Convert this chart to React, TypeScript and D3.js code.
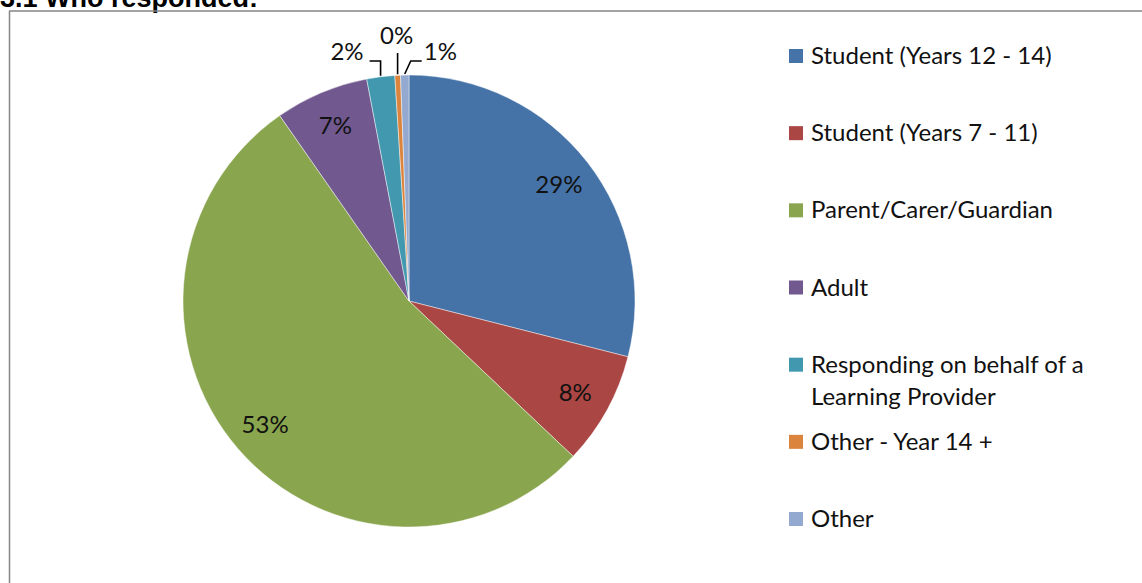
import * as d3 from "d3";

const categories = [
  "Student (Years 12 - 14)",
  "Student (Years 7 - 11)",
  "Parent/Carer/Guardian",
  "Adult",
  "Responding on behalf of a Learning Provider",
  "Other - Year 14 +",
  "Other",
];
const legendLines = [
  ["Student (Years 12 - 14)"],
  ["Student (Years 7 - 11)"],
  ["Parent/Carer/Guardian"],
  ["Adult"],
  ["Responding on behalf of a", "Learning Provider"],
  ["Other - Year 14 +"],
  ["Other"],
];
const values = [29.0, 8.1, 53.3, 6.7, 2.0, 0.4, 0.6];
const colors = ["#4572A7", "#AA4643", "#89A54E", "#71588F", "#4198AF", "#DB843D", "#93A9CF"];
// -1 = label left of leader, 0 = above, 1 = right, null = inside slice
const outsideSide: (number | null)[] = [null, null, null, null, -1, 0, 1];

const W = 1142;
const H = 583;
const cx = 409;
const cy = 301;
const R = 226;
const FONT = "Lato, 'Noto Sans', sans-serif";
const FS = 24;

export default function App() {
  const total = d3.sum(values);
  const pie = d3
    .pie<number>()
    .sort(null)
    .value((d) => d);
  const arcs = pie(values);
  const arc = d3.arc<d3.PieArcDatum<number>>().innerRadius(0).outerRadius(R);
  const labelArc = d3.arc<d3.PieArcDatum<number>>().innerRadius(R * 0.84).outerRadius(R * 0.84);
  const pct = (v: number) => `${Math.round((v / total) * 100)}%`;

  const legendY = d3
    .scaleLinear()
    .domain([0, categories.length - 1])
    .range([56, 519]);

  return (
    <svg
      width={W}
      height={H}
      style={{ position: "absolute", left: 0, top: 0, background: "#fff" }}
      fontFamily={FONT}
    >
      <text
        x={0}
        y={7}
        fontFamily="'Liberation Sans', Arial, sans-serif"
        fontWeight="bold"
        fontSize={27}
        fill="#000"
      >
        3.1 Who responded:
      </text>
      <line x1={9.5} y1={11} x2={9.5} y2={H} stroke="#868686" strokeWidth={1.5} />
      <line x1={9} y1={11} x2={W} y2={11} stroke="#868686" strokeWidth={1.5} />

      <g transform={`translate(${cx},${cy})`}>
        {arcs.map((a, i) => (
          <path
            key={categories[i]}
            d={arc(a) ?? ""}
            fill={colors[i]}
            stroke="#ffffff"
            strokeOpacity={0.45}
            strokeWidth={1}
          />
        ))}
        {arcs.map((a, i) => {
          const side = outsideSide[i];
          if (side !== null) return null;
          const [lx, ly] = labelArc.centroid(a);
          return (
            <text
              key={"l" + i}
              x={lx}
              y={ly}
              dy="0.35em"
              textAnchor="middle"
              fontSize={FS}
              fill="#111"
            >
              {pct(a.value)}
            </text>
          );
        })}
        {arcs.map((a, i) => {
          const side = outsideSide[i];
          if (side === null) return null;
          const mid = (a.startAngle + a.endAngle) / 2;
          const ax = (R + 1) * Math.sin(mid);
          const ay = -(R + 1) * Math.cos(mid);
          if (side === 0) {
            const topY = -R - 22;
            return (
              <g key={"o" + i}>
                <line x1={ax} y1={ay} x2={ax} y2={topY} stroke="#000" strokeWidth={1.6} />
                <text x={ax - 1} y={-R - 31} textAnchor="middle" fontSize={FS} fill="#111">
                  {pct(a.value)}
                </text>
              </g>
            );
          }
          const ex = ax + (side > 0 ? 6 : 0);
          const ey = -R - 14;
          const hx = ex + side * 11;
          return (
            <g key={"o" + i}>
              <polyline
                points={`${ax},${ay} ${ex},${ey} ${hx},${ey}`}
                fill="none"
                stroke="#000"
                strokeWidth={1.6}
              />
              <text
                x={hx + side * (side > 0 ? 2 : 6)}
                y={ey - 1}
                textAnchor={side > 0 ? "start" : "end"}
                fontSize={FS}
                fill="#111"
              >
                {pct(a.value)}
              </text>
            </g>
          );
        })}
      </g>

      <g>
        {categories.map((c, i) => {
          const y = legendY(i);
          return (
            <g key={c}>
              <rect x={789} y={y - 7} width={14} height={14} fill={colors[i]} />
              {legendLines[i].map((line, j) => (
                <text key={j} x={811} y={y + 8 + j * 32} fontSize={FS} fill="#111">
                  {line}
                </text>
              ))}
            </g>
          );
        })}
      </g>
    </svg>
  );
}
